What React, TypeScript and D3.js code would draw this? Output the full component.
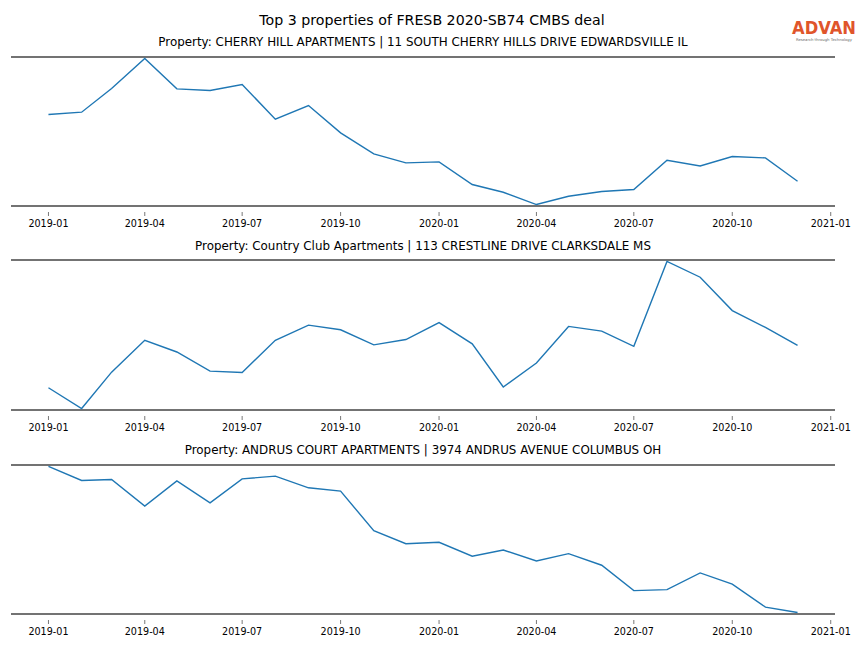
import React from "react";
import * as d3 from "d3";

const months: string[] = [
  "2019-01","2019-02","2019-03","2019-04","2019-05","2019-06","2019-07","2019-08","2019-09","2019-10","2019-11","2019-12",
  "2020-01","2020-02","2020-03","2020-04","2020-05","2020-06","2020-07","2020-08","2020-09","2020-10","2020-11","2020-12",
];

const cherryHill: number[] = [91.7, 94, 117.7, 147.7, 117.3, 115.7, 121.7, 87, 100.7, 73.3, 52.3, 43.3, 44.3, 21.7, 14, 1.7, 10, 14.7, 16.7, 46, 40.3, 49.7, 48.3, 25];
const countryClub: number[] = [22.3, 1.7, 37.7, 69.3, 57.7, 38.7, 37.3, 69.3, 84.3, 79.7, 64.7, 70, 86.7, 65.7, 23, 46.7, 83, 78.3, 63.3, 147.3, 131.7, 98.7, 82, 64.3];
const andrusCourt: number[] = [147.7, 133.7, 134.7, 108, 133.3, 111.3, 135.3, 138, 126.3, 123, 83.3, 70.3, 71.7, 57.7, 64, 53, 60.3, 48.7, 23.3, 24.3, 41, 29.7, 6.7, 1.3];

const panelTitles: string[] = [
  "Property: CHERRY HILL APARTMENTS | 11 SOUTH CHERRY HILLS DRIVE EDWARDSVILLE IL",
  "Property: Country Club Apartments | 113 CRESTLINE DRIVE CLARKSDALE MS",
  "Property: ANDRUS COURT APARTMENTS | 3974 ANDRUS AVENUE COLUMBUS OH",
];
const seriesList: number[][] = [cherryHill, countryClub, andrusCourt];
const mainTitle = "Top 3 properties of FRESB 2020-SB74 CMBS deal";

const W = 864, H = 648;
const X0 = 11, X1 = 835;
const panels = [
  { top: 57, bottom: 206, titleY: 46 },
  { top: 260, bottom: 410, titleY: 250 },
  { top: 465, bottom: 614, titleY: 454 },
];
const FONT = "DejaVu Sans, sans-serif";

export default function App() {
  const dates = months.map((m) => new Date(m + "-01T00:00:00Z"));
  const t0 = dates[0].getTime(), t1 = dates[dates.length - 1].getTime();
  const pad = (t1 - t0) * 0.05;
  const x = d3.scaleUtc().domain([new Date(t0 - pad), new Date(t1 + pad)]).range([X0, X1]);
  const ticks = d3.utcMonth.every(3)!.range(new Date(Date.UTC(2019, 0, 1)), new Date(Date.UTC(2021, 0, 2)));
  const fmt = d3.utcFormat("%Y-%m");

  return (
    <svg width={W} height={H} style={{ position: "absolute", left: 0, top: 0, background: "#fff" }}>
      <text x={432} y={24.5} textAnchor="middle" fontFamily={FONT} fontSize={14.2} fill="#000">{mainTitle}</text>
      <text x={792} y={34} fontFamily={FONT} fontSize={18} fontWeight={600} fill="#e0552b" textLength={64} lengthAdjust="spacingAndGlyphs">ADVAN</text>
      <text x={824} y={40.5} textAnchor="middle" fontFamily={FONT} fontSize={3.8} fill="#666">Research through Technology</text>
      {panels.map((p, i) => {
        const vals = seriesList[i];
        const [mn, mx] = d3.extent(vals) as [number, number];
        const r = mx - mn;
        const y = d3.scaleLinear().domain([mn - r * 0.01, mx + r * 0.01]).range([p.bottom, p.top]);
        const line = d3.line<number>().x((_, j) => x(dates[j])).y((d) => y(d));
        return (
          <g key={i}>
            <text x={423} y={p.titleY} textAnchor="middle" fontFamily={FONT} fontSize={11.9} fill="#000">{panelTitles[i]}</text>
            <line x1={X0} x2={X1} y1={p.top} y2={p.top} stroke="#444" strokeWidth={1.4} />
            <line x1={X0} x2={X1} y1={p.bottom} y2={p.bottom} stroke="#444" strokeWidth={1.4} />
            <path d={line(vals) || ""} fill="none" stroke="#1f77b4" strokeWidth={1.4} />
            {ticks.map((t, k) => (
              <g key={k} transform={`translate(${x(t)},0)`}>
                <line y1={p.bottom + 6} y2={p.bottom + 10} stroke="#555" strokeWidth={0.8} />
                <text y={p.bottom + 21} textAnchor="middle" fontFamily={FONT} fontSize={9.6} fill="#000">{fmt(t)}</text>
              </g>
            ))}
          </g>
        );
      })}
    </svg>
  );
}
